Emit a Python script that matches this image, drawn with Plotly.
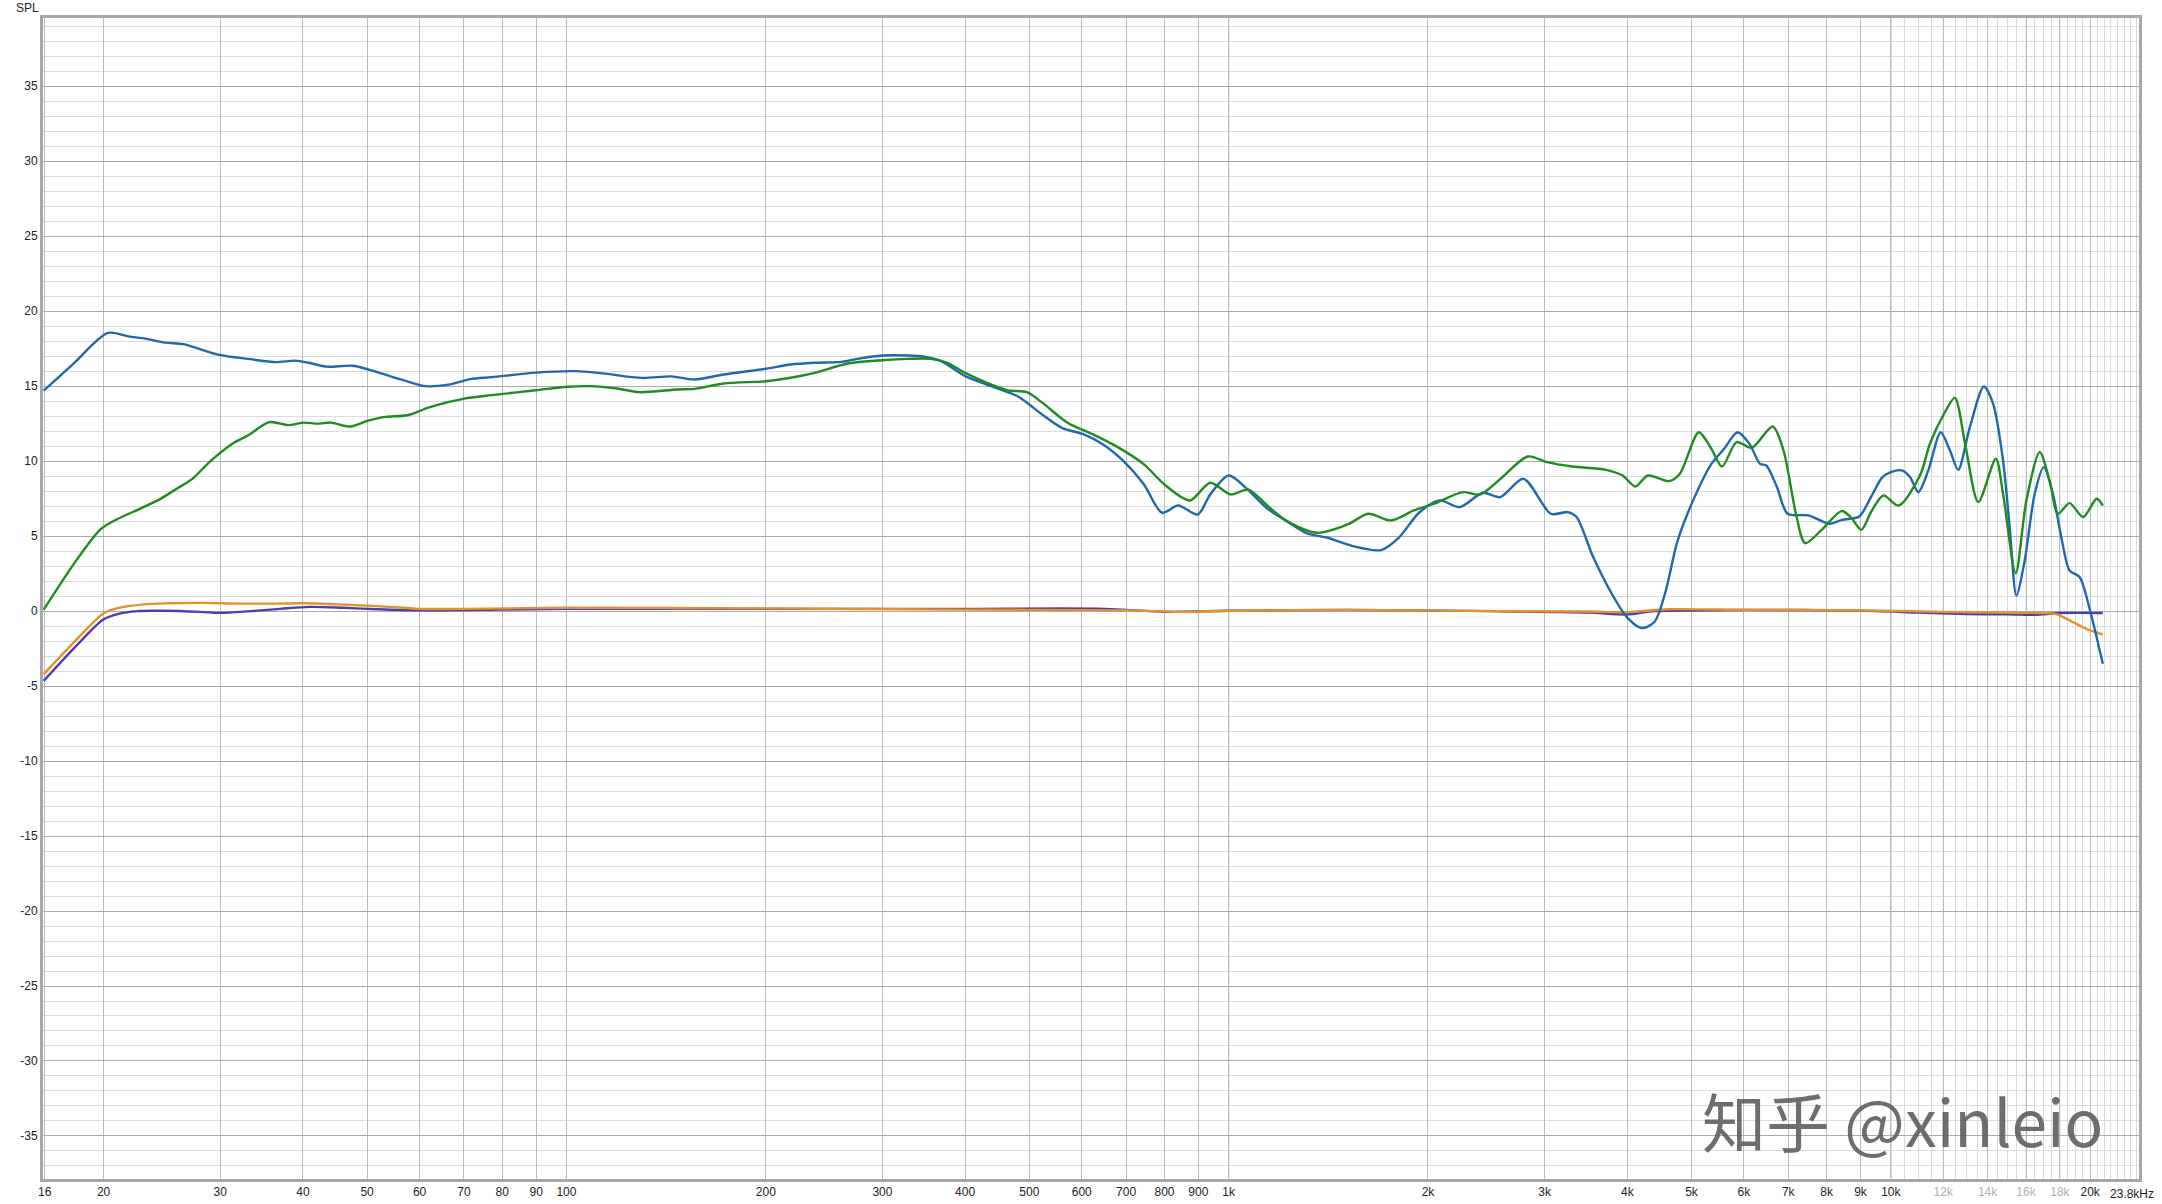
import math
import plotly.graph_objects as go

# ---------------- data ----------------
blue_f = [16.24, 18.0, 20.3, 21.9, 22.9, 24.8, 26.4, 29.8, 33.3, 36.4, 38.9, 40.8, 43.5, 47.6,
          52.5, 56.7, 61.3, 66.3, 71.6, 77.2, 89.9, 103.4, 113.4, 130, 144, 156, 173, 200,
          218, 237, 260, 275, 300, 328, 347, 368, 400, 438, 480, 500, 523, 561, 603, 647,
          694, 745, 793, 839, 898, 938, 1000, 1062, 1140, 1224, 1314, 1410, 1540, 1698,
          1806, 1939, 2081, 2234, 2420, 2570, 2788, 3066, 3254, 3353, 3552, 3765, 3993,
          4204, 4395, 4560, 4766, 5054, 5358, 5601, 5867, 6116, 6345, 6487, 6730, 6984,
          7509, 8082, 8447, 8958, 9361, 9700, 10000, 10388, 10692, 11003, 11391, 11893,
          12282, 12640, 13162, 13818, 14273, 14772, 15116, 15474, 15928, 16491, 17013,
          17568, 18087, 18619, 19277, 19960, 20897]
blue_db = [14.7, 16.49, 18.55, 18.3, 18.2, 17.9, 17.8, 17.1, 16.8, 16.6, 16.7, 16.56, 16.3, 16.36,
           15.85, 15.4, 15.0, 15.1, 15.47, 15.6, 15.9, 16.0, 15.85, 15.55, 15.65, 15.44, 15.78, 16.16,
           16.44, 16.56, 16.62, 16.82, 17.04, 17.04, 16.96, 16.67, 15.67, 15.0, 14.33, 13.78, 13.1, 12.2, 11.8, 11.1,
           10.0, 8.44, 6.56, 7.04, 6.44, 7.78, 9.04, 8.22, 6.89, 6.0, 5.18, 4.89, 4.33, 4.07,
           4.89, 6.56, 7.38, 6.93, 7.89, 7.6, 8.82, 6.49, 6.6, 6.27, 3.6, 1.38, -0.4,
           -1.13, -0.73, 1.16, 4.71, 7.6, 9.82, 10.82, 11.93, 11.16, 9.82, 9.71, 8.27, 6.49,
           6.38, 5.82, 6.09, 6.31, 7.71, 8.9, 9.27, 9.38, 8.93, 7.93, 9.38, 11.93,
           10.71, 9.42, 12.27, 14.98, 13.82, 10.04, 5.6, 1.04, 3.38, 7.82, 9.6,
           7.82, 4.93, 2.71, 2.27, 0.16, -3.51]

green_f = [16.24, 18.2, 19.8, 20.9, 22.9, 24.4, 26.0, 27.2, 29.0, 31.3, 33.0, 35.6, 38.0, 40.1,
           42.1, 44.1, 47.0, 50.2, 53.3, 57.5, 62.2, 70.1, 77.2, 89.9, 100.4, 108.6, 119.1,
           128.8, 147, 156, 173, 200, 218, 237, 266, 300, 328, 355, 376, 400, 438, 464, 496,
           523, 571, 624, 682, 745, 800, 874, 938, 1007, 1071, 1140, 1224, 1361, 1513, 1625,
           1759, 1904, 2045, 2255, 2398, 2570, 2830, 3025, 3305, 3713, 3936, 4113, 4297,
           4625, 4802, 5129, 5358, 5560, 5850, 6162, 6632, 6885, 7189, 7422, 7848, 8422,
           8697, 9023, 9361, 9744, 10276, 11066, 11455, 12031, 12492, 12946, 13554, 14407,
           14772, 15438, 16020, 16779, 17369, 17877, 18619, 19518, 20456, 20897]
green_db = [0.1, 3.4, 5.47, 6.1, 6.9, 7.5, 8.26, 8.8, 10.0, 11.16, 11.7, 12.6, 12.4, 12.57,
            12.5, 12.57, 12.3, 12.7, 12.95, 13.06, 13.6, 14.17, 14.4, 14.73, 14.96, 15.0, 14.84,
            14.6, 14.78, 14.82, 15.18, 15.33, 15.56, 15.89, 16.51, 16.73, 16.82, 16.82, 16.56, 15.89, 15.11, 14.72, 14.6,
            13.9, 12.56, 11.78, 10.9, 9.78, 8.44, 7.38, 8.56, 7.78, 8.1, 7.1, 6.0, 5.22, 5.78, 6.49,
            6.04, 6.71, 7.16, 7.93, 7.78, 8.8, 10.31, 9.93, 9.64, 9.42, 9.04, 8.31, 9.04,
            8.67, 9.16, 11.93, 10.82, 9.64, 11.27, 10.89, 12.31, 10.71, 6.49, 4.53, 5.38, 6.67,
            6.27, 5.42, 6.71, 7.71, 7.04, 9.04, 11.16, 13.16, 14.22, 11.16, 7.27, 10.16,
            7.82, 2.53, 7.38, 10.6, 8.71, 6.49, 7.2, 6.27, 7.49, 7.04]

orange_f = [16.24, 18.2, 20.0, 21.0, 23.0, 25, 28, 32, 36, 40, 45, 52, 60, 70, 100, 200, 400,
            700, 850, 1000, 1500, 2500, 3500, 4000, 4600, 6000, 9000, 12000, 15000, 17000,
            17770, 18619, 19735, 20897]
orange_db = [-4.2, -1.9, -0.15, 0.2, 0.45, 0.52, 0.55, 0.5, 0.5, 0.52, 0.45, 0.33, 0.15, 0.15, 0.22, 0.18, 0.1,
             0.05, -0.05, 0.02, 0.08, 0.0, -0.03, -0.07, 0.12, 0.08, 0.05, -0.05, -0.1, -0.13,
             -0.2, -0.62, -1.18, -1.56]

purple_f = [16.24, 18.2, 20.0, 21.0, 22.5, 24.5, 28, 30, 33, 37, 41, 46, 52, 60, 80, 100, 200,
            400, 650, 800, 1000, 1500, 2500, 3500, 4000, 4400, 6000, 9000, 11000, 13000,
            15000, 16500, 18000, 20897]
purple_db = [-4.65, -2.3, -0.55, -0.2, 0.0, 0.02, -0.05, -0.12, -0.02, 0.15, 0.28, 0.22, 0.12, 0.05, 0.1, 0.15, 0.15,
             0.15, 0.15, -0.05, 0.02, 0.08, 0.0, -0.1, -0.22, 0.0, 0.08, 0.03, -0.1, -0.2,
             -0.22, -0.25, -0.13, -0.13]

x_tick_vals = [16.3, 20, 30, 40, 50, 60, 70, 80, 90, 100, 200, 300, 400, 500, 600, 700, 800, 900,
               1000, 2000, 3000, 4000, 5000, 6000, 7000, 8000, 9000, 10000, 12000, 14000, 16000,
               18000, 20000]
x_tick_text = ["16", "20", "30", "40", "50", "60", "70", "80", "90", "100", "200", "300", "400",
               "500", "600", "700", "800", "900", "1k", "2k", "3k", "4k", "5k", "6k", "7k", "8k",
               "9k", "10k", "12k", "14k", "16k", "18k", "20k"]
x_end_label = "23.8kHz"
grey_labels = ["12k", "14k", "16k", "18k"]
y_tick_vals = [35, 30, 25, 20, 15, 10, 5, 0, -5, -10, -15, -20, -25, -30, -35]

# ---------------- figure ----------------
fig = go.Figure()

def add(fx, fy, color):
    fig.add_trace(go.Scatter(x=fx, y=fy, mode="lines",
                             line=dict(color=color, width=2.4, shape="spline", smoothing=0.8),
                             showlegend=False, hoverinfo="skip"))

add(purple_f, purple_db, "#4a3fb0")
add(orange_f, orange_db, "#e3922e")
add(blue_f, blue_db, "#2068ad")
add(green_f, green_db, "#1e8c1e")

ticktext = [('<span style="color:#b0b0b0">%s</span>' % t) if t in grey_labels else t for t in x_tick_text]

minor_x = [v for v in range(10500, 23600, 500) if v not in (12000, 14000, 16000, 18000, 20000)]

tick_font = dict(family="Liberation Sans Narrow, Liberation Sans, Arial", size=12, color="#222222")

fig.update_xaxes(
    type="log",
    range=[math.log10(16.2), math.log10(23700)],
    tickmode="array", tickvals=x_tick_vals, ticktext=ticktext,
    showgrid=True, gridcolor="#bcbcbc", gridwidth=1,
    minor=dict(tickmode="array", tickvals=minor_x, showgrid=True, gridcolor="#dadada", gridwidth=1),
    ticks="", showline=True, linecolor="#a8a8a8", linewidth=3, mirror=True,
    zeroline=False, automargin=False,
    tickfont=tick_font,
)
fig.update_yaxes(
    range=[-37.87, 39.55],
    tickmode="array", tickvals=y_tick_vals, ticktext=[str(v) for v in y_tick_vals],
    showgrid=True, gridcolor="#ababab", gridwidth=1,
    minor=dict(dtick=1, showgrid=True, gridcolor="#dcdcdc", gridwidth=1),
    ticks="", showline=True, linecolor="#a8a8a8", linewidth=3, mirror=True,
    zeroline=False, automargin=False,
    tickfont=tick_font,
)

# darker decade lines and lighter labelled minor lines
shapes = []
for v in [100, 1000, 10000]:
    shapes.append(dict(type="line", xref="x", yref="paper", x0=v, x1=v, y0=0, y1=1,
                       line=dict(color="#8c8c8c", width=1), layer="below"))
for v in [12000, 14000, 16000, 18000]:
    shapes.append(dict(type="line", xref="x", yref="paper", x0=v, x1=v, y0=0, y1=1,
                       line=dict(color="#d4d4d4", width=1), layer="below"))

fig.update_layout(
    width=2162, height=1204,
    margin=dict(l=43, r=23, t=18, b=25, autoexpand=False),
    plot_bgcolor="white", paper_bgcolor="white",
    shapes=shapes,
    annotations=[
        dict(text="SPL", xref="paper", yref="paper", x=-0.0072, y=1.0086, showarrow=False,
             xanchor="center", yanchor="middle", font=tick_font),
        dict(text=x_end_label, xref="paper", yref="paper", x=1.0082, y=-0.0125, showarrow=False,
             xanchor="right", yanchor="middle", font=tick_font),
        dict(text="知乎 @xinleio", xref="paper", yref="paper", x=0.887, y=0.052, showarrow=False,
             xanchor="center", yanchor="middle",
             font=dict(family="Noto Sans CJK SC", size=64, color="rgba(90,90,90,0.88)")),
    ],
)

fig.write_html("out.html", config={"displayModeBar": False},
               post_script="document.body.style.margin='0';document.body.style.overflow='hidden';")
